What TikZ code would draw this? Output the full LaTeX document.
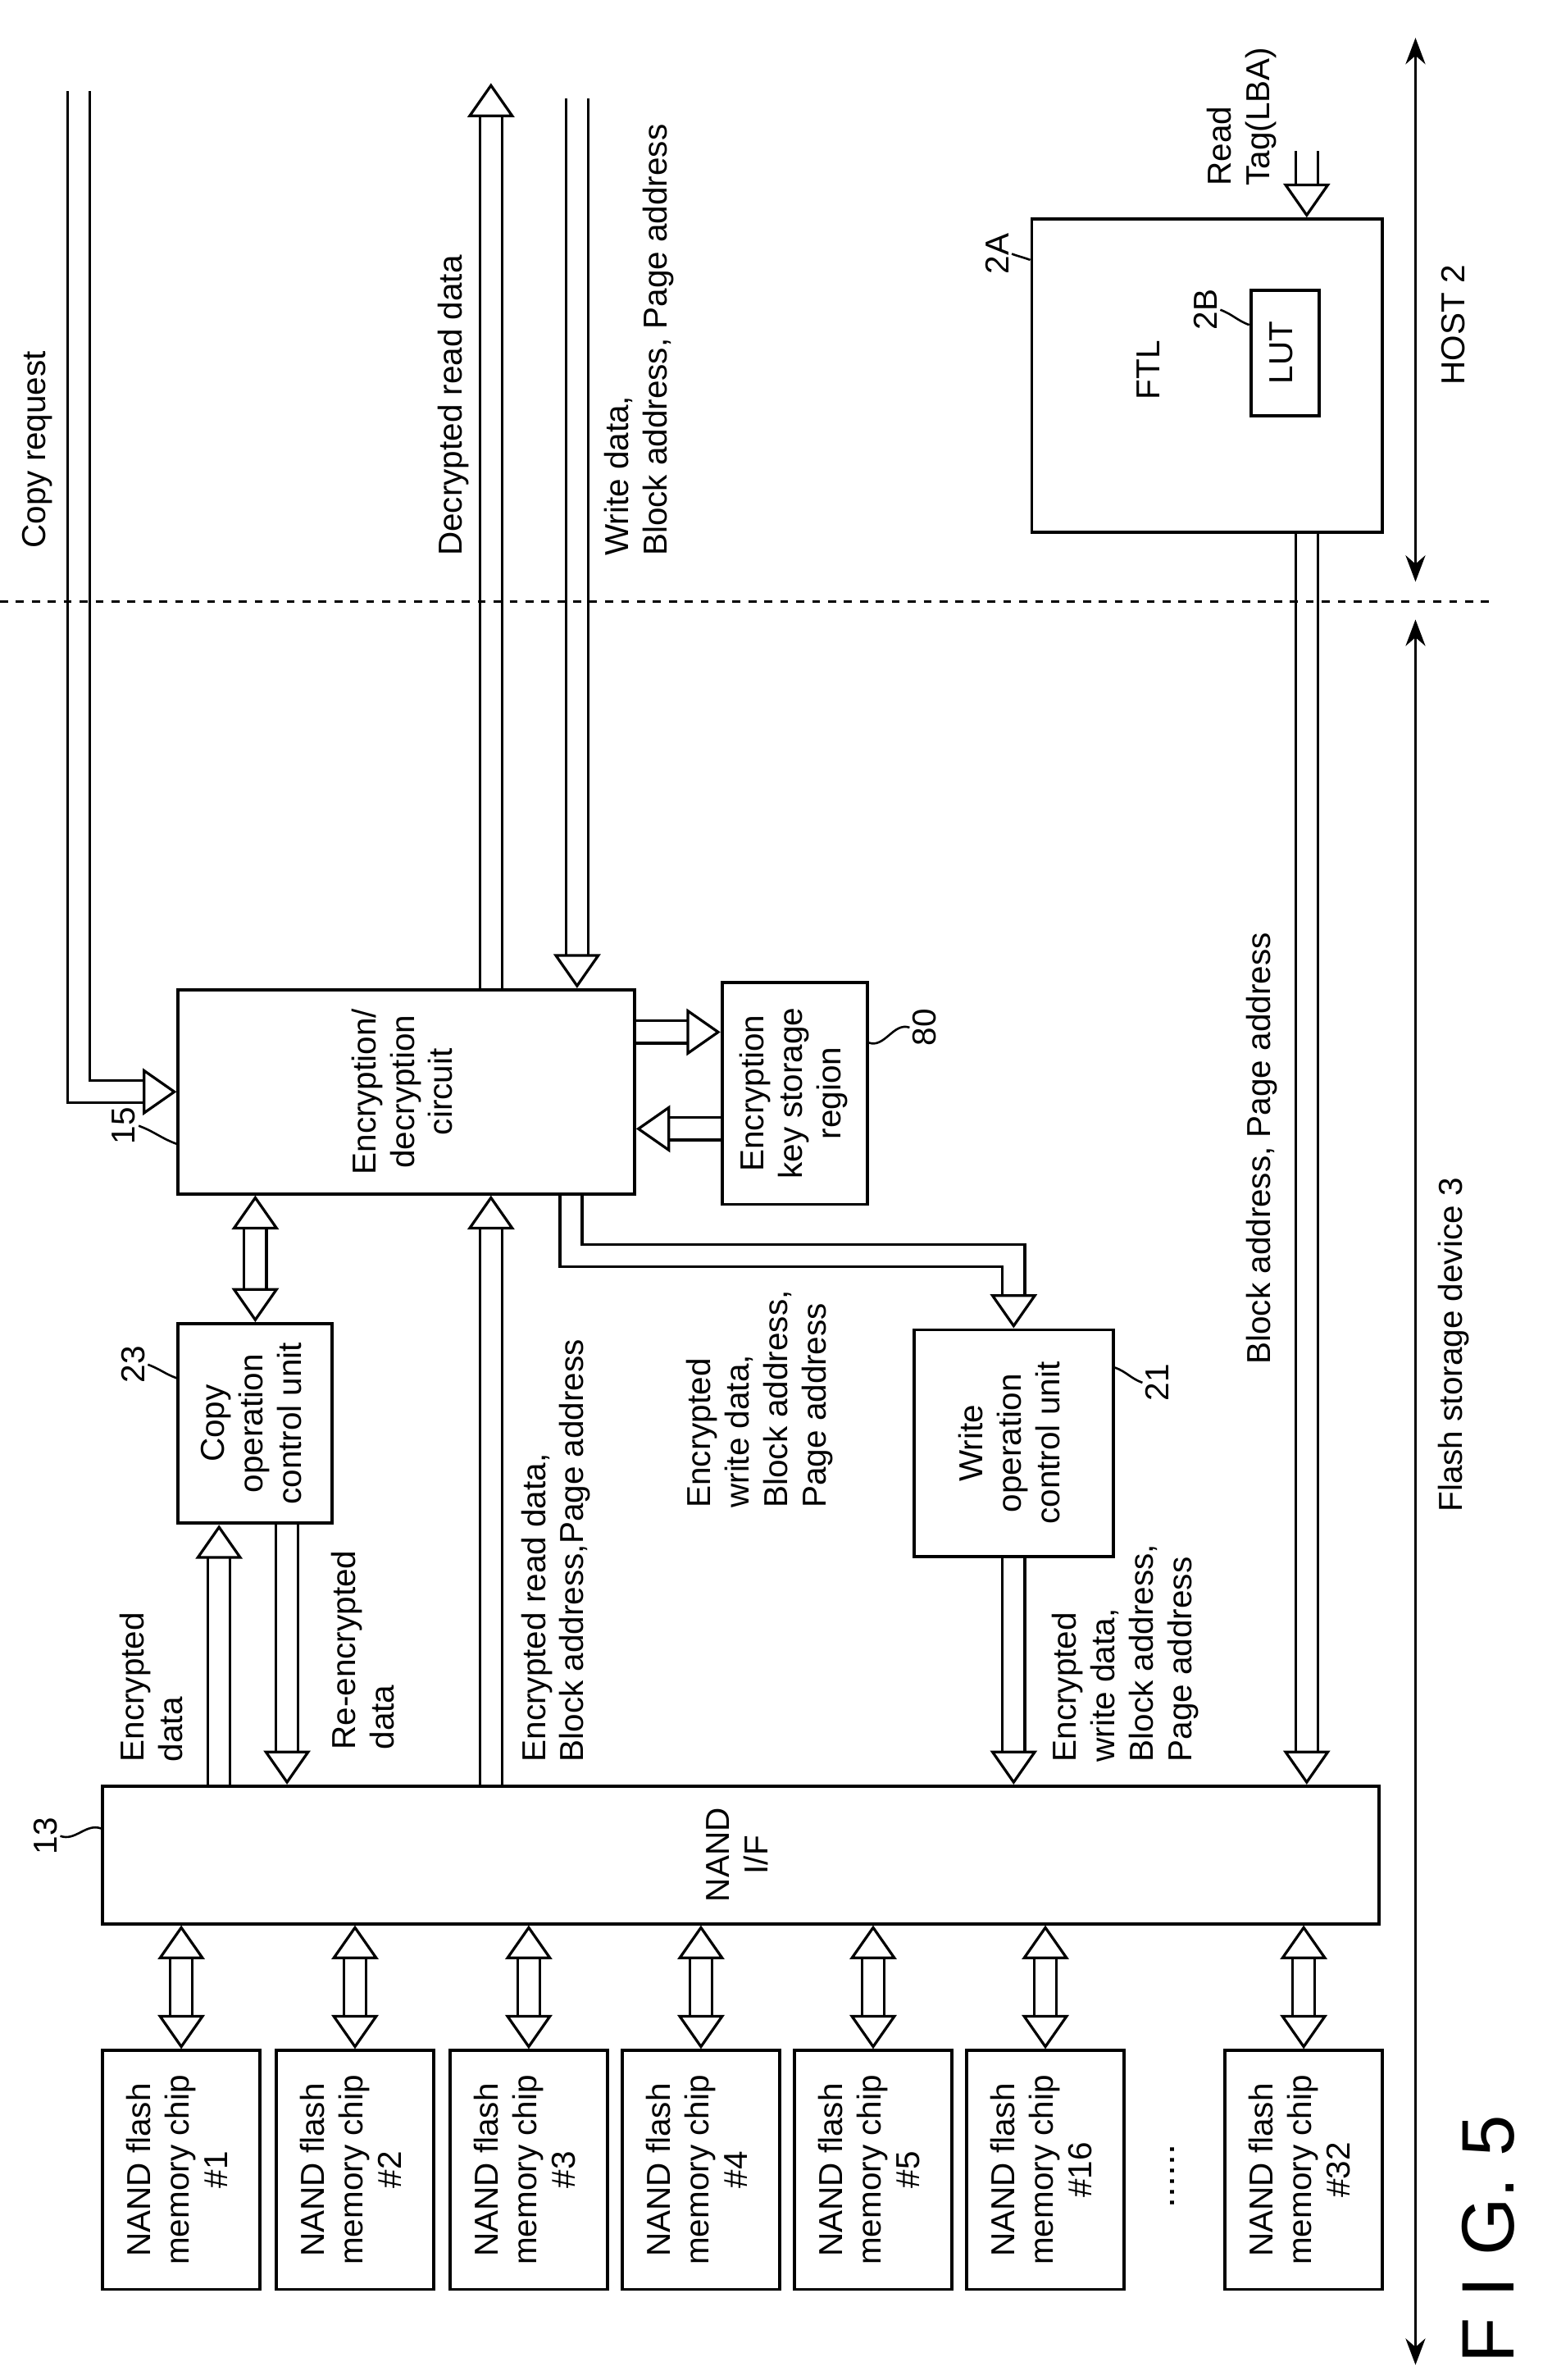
\documentclass[tikz,border=0pt]{standalone}
\usepackage{fontspec}
\setmainfont{Liberation Sans}
\usetikzlibrary{arrows.meta}
\newcommand{\rot}[1]{\rotatebox{90}{\begin{tabular}{@{}c@{}}#1\end{tabular}}}
\tikzset{
  box/.style={draw, line width=1.2pt, inner sep=0pt, align=center},
  hol/.style={double, double distance=0.26cm, line width=1pt, line join=miter,
    -{Triangle[open, fill=white, length=0.45cm, width=0.62cm, line width=1pt]}},
  holb/.style={hol, {Triangle[open, fill=white, length=0.45cm, width=0.62cm, line width=1pt]}-{Triangle[open, fill=white, length=0.45cm, width=0.62cm, line width=1pt]}},
  lbl/.style={rotate=90, align=left, inner sep=1pt, anchor=west},
  num/.style={rotate=90, inner sep=1pt},
  lead/.style={line width=0.8pt},
}
\begin{document}
\begin{tikzpicture}[x=0.02cm, y=-0.02cm, font=\fontsize{12.5}{14.5}\selectfont]
\useasboundingbox (0,0) rectangle (1021,1575);

% memory chips
\foreach \cx/\n in {120/1, 235/2, 350/3, 464/4, 578/5, 692/16, 863/32}
  \node [box, minimum width=104*0.02cm, minimum height=158*0.02cm] (chip\n) at (\cx,1436) {\rot{NAND flash\\memory chip\\\#\n}};
\node [rotate=90, font=\Large] (dots) at (776,1440) {......};

% controller blocks
\node [box, minimum width=845*0.02cm, minimum height=91*0.02cm] (nand) at (490.5,1227.5) {\rot{NAND\\I/F}};
\node [box, minimum width=102*0.02cm, minimum height=132*0.02cm] (copy) at (169,942) {\rot{Copy\\operation\\control unit}};
\node [box, minimum width=302*0.02cm, minimum height=135*0.02cm] (enc) at (269,722.5) {\rot{Encryption/\\decryption\\circuit}};
\node [box, minimum width=96*0.02cm, minimum height=147*0.02cm] (key) at (526,723.5) {\rot{Encryption\\key storage\\region}};
\node [box, minimum width=132*0.02cm, minimum height=150*0.02cm] (wr) at (671,955) {\rot{Write\\operation\\control unit}};
\node [box, minimum width=232*0.02cm, minimum height=207*0.02cm] (ftl) at (799,248.5) {};
\node [rotate=90] (ftltxt) at (760,245) {FTL};
\node [box, minimum width=45*0.02cm, minimum height=83*0.02cm] (lut) at (850.5,233.5) {\rot{LUT}};

% reference numbers
\node [num] (n13) at (30,1215) {13};
\node [num] (n23) at (88,903) {23};
\node [num] (n15) at (82,745) {15};
\node [num] (n80) at (612,680) {80};
\node [num] (n21) at (766,915) {21};
\node [num] (n2A) at (660,168) {2A};
\node [num] (n2B) at (798,205) {2B};
\draw [lead] (n13.south) to [out=-20, in=160] (nand.west |- 0,1210);
\draw [lead] (n23.south) to [out=-20, in=160] (copy.west |- 0,912);
\draw [lead] (n15.south) to [out=-20, in=160] (enc.west |- 0,757);
\draw [lead] (n80.north) to [out=160, in=-20] (key.east |- 0,690);
\draw [lead] (n21.north) to [out=160, in=-20] (wr.east |- 0,905);
\draw [lead] (n2A.south) to [out=-20, in=160] (ftl.west |- 0,172);
\draw [lead] (n2B.south) to [out=-20, in=160] (lut.west |- 0,215);

% chips to NAND I/F
\foreach \n in {1,2,3,4,5,16,32}
  \draw [holb] (chip\n.north) -- (nand.south -| chip\n);

% helper coordinates
\coordinate (cr) at (52,60);
\coordinate (dr) at (325,55);
\coordinate (wd) at (382,65);
\coordinate (rt) at (865,100);
\coordinate (ew) at (378,0);
\coordinate (k1) at (0,683);
\coordinate (k2) at (0,747);
\coordinate (ce) at (145,0);
\coordinate (cw) at (190,0);

\draw [hol] (cr) |- (enc);
\draw [hol] (enc.north -| dr) -- (dr);
\draw [hol] (wd) -- (enc.north -| wd);
\draw [hol] (rt) -- (ftl.north -| rt);
\draw [hol] (ftl.south -| rt) -- (nand.north -| rt);
\draw [hol] (enc.east |- k1) -- (key.west |- k1);
\draw [hol] (key.west |- k2) -- (enc.east |- k2);
\draw [holb] (enc.south -| copy) -- (copy.north);
\draw [hol] (enc.south -| ew) -- ++(0,40) -| (wr.north);
\draw [hol] (nand.north -| dr) -- (enc.south -| dr);
\draw [hol] (nand.north -| ce) -- (copy.south -| ce);
\draw [hol] (copy.south -| cw) -- (nand.north -| cw);
\draw [hol] (wr.south) -- (nand.north -| wr);

% connector texts
\node [lbl] (tcr) at (25,365) {Copy request};
\node [lbl] (tdr) at (300,370) {Decrypted read data};
\node [lbl] (twd) at (423,370) {Write data,\\Block address, Page address};
\node [lbl] (trt) at (822,125) {Read\\Tag(LBA)};
\node [lbl] (tba) at (835,905) {Block address, Page address};
\node [lbl] (tew) at (503,1000) {Encrypted\\write data,\\Block address,\\Page address};
\node [lbl] (ter) at (368,1168) {Encrypted read data,\\Block address,Page address};
\node [lbl] (ted) at (100,1168) {Encrypted\\data};
\node [lbl] (tre) at (240,1160) {Re-encrypted\\data};
\node [lbl] (twn) at (745,1168) {Encrypted\\write data,\\Block address,\\Page address};

% host / device boundary
\draw [dashed, line width=0.9pt] (0,398) -- (990,398);
\coordinate (h1) at (937,25);
\coordinate (h2) at (937,385);
\coordinate (f1) at (937,410);
\coordinate (f2) at (937,1565);
\draw [line width=0.9pt, {Stealth[length=0.35cm]}-{Stealth[length=0.35cm]}] (h1) -- (h2);
\draw [line width=0.9pt, {Stealth[length=0.35cm]}-{Stealth[length=0.35cm]}] (f1) -- (f2);
\node [rotate=90] (host) at (962,215) {HOST 2};
\node [rotate=90] (dev) at (962,890) {Flash storage device 3};

\node [rotate=90, font=\fontsize{28}{34}\selectfont] (fig) at (985,1482) {F I G. 5};
\end{tikzpicture}
\end{document}
